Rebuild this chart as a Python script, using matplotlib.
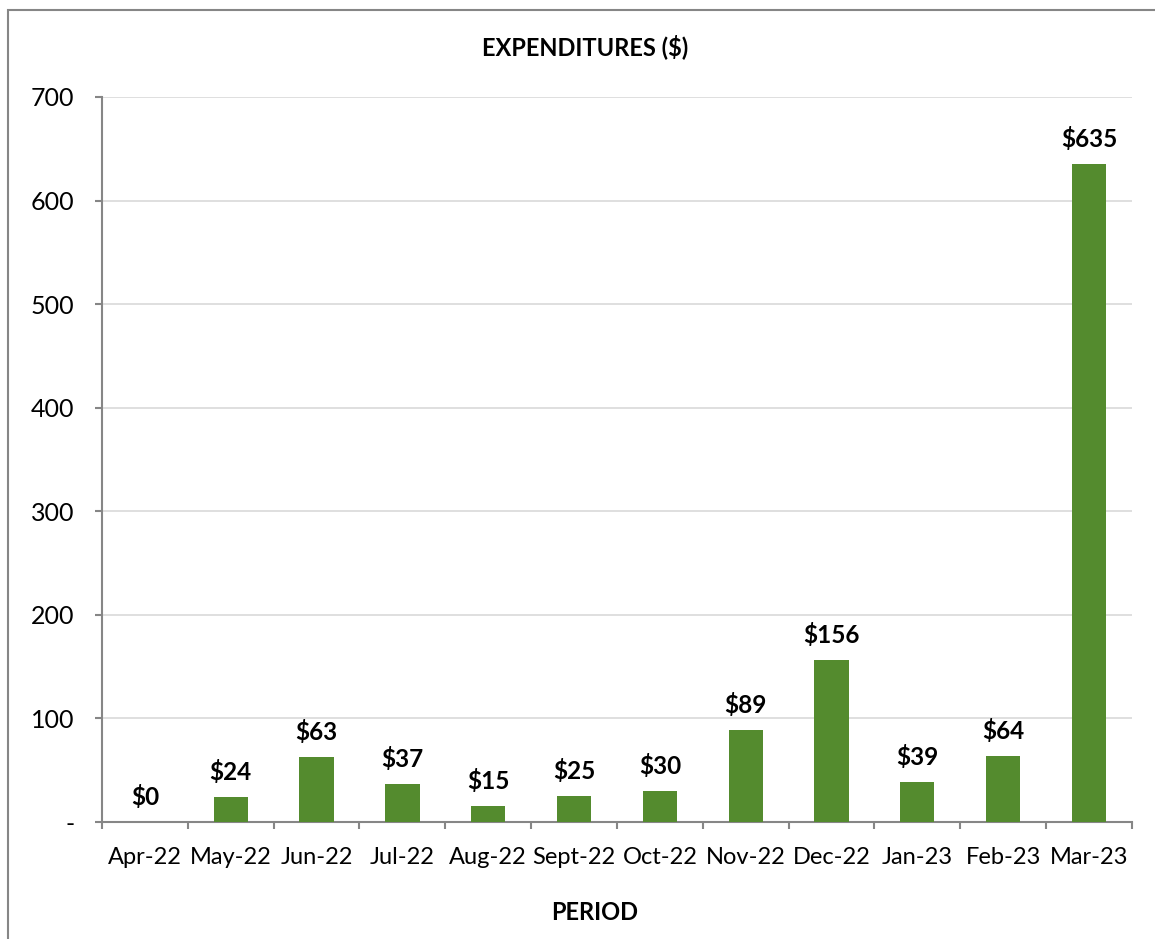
import numpy as np
import matplotlib.pyplot as plt
from matplotlib.patches import Rectangle

periods = ['Apr-22', 'May-22', 'Jun-22', 'Jul-22', 'Aug-22', 'Sept-22',
           'Oct-22', 'Nov-22', 'Dec-22', 'Jan-23', 'Feb-23', 'Mar-23']
expenditures = [0, 24, 63, 37, 15, 25, 30, 89, 156, 39, 64, 635]
y_ticks = [0, 100, 200, 300, 400, 500, 600, 700]
y_tick_labels = ['-', '100', '200', '300', '400', '500', '600', '700']

plt.rcParams['font.family'] = ['Lato', 'DejaVu Sans']

fig = plt.figure(figsize=(11.55, 9.39), dpi=100)
ax = fig.add_axes([0.0883, 0.1246, 0.8917, 0.7721])

x = np.arange(len(periods))
ax.bar(x, expenditures, width=0.4, color='#548B2E', zorder=3)

for xi, v in zip(x, expenditures):
    ax.annotate('$%d' % v, (xi, v), xytext=(0, 18), textcoords='offset points',
                ha='center', va='center', fontsize=17.5, fontweight='bold')

ax.set_xlim(-0.5, len(periods) - 0.5)
ax.set_ylim(0, 700)
ax.set_yticks(y_ticks)
ax.set_yticklabels(y_tick_labels)
ax.set_xticks(x)
ax.set_xticklabels(periods)
ax.set_xticks(np.arange(len(periods) + 1) - 0.5, minor=True)

ax.grid(axis='y', color='#D9D9D9', linewidth=1.2, zorder=0)
for s in ['top', 'right']:
    ax.spines[s].set_visible(False)
for s in ['left', 'bottom']:
    ax.spines[s].set_color('#868686')
    ax.spines[s].set_linewidth(1.5)

ax.tick_params(axis='y', length=5, width=1.5, color='#868686', pad=15, labelsize=18)
ax.tick_params(axis='x', which='major', length=0, pad=18, labelsize=17)
ax.tick_params(axis='x', which='minor', length=5, width=1.5, color='#868686')

fig.text(0.5065, 1 - 47 / 939, 'EXPENDITURES ($)', ha='center', va='center',
         fontsize=17, fontweight='bold')
fig.text(0.515, 1 - 912 / 939, 'PERIOD', ha='center', va='center',
         fontsize=17, fontweight='bold')

# outer chart border (left and top visible)
fig.add_artist(Rectangle((8 / 1155, -0.1), 1.2, 1 - 10 / 939 + 0.1,
                         transform=fig.transFigure, fill=False,
                         edgecolor='#868686', linewidth=1.5))

fig.savefig('out.png', dpi=100)
